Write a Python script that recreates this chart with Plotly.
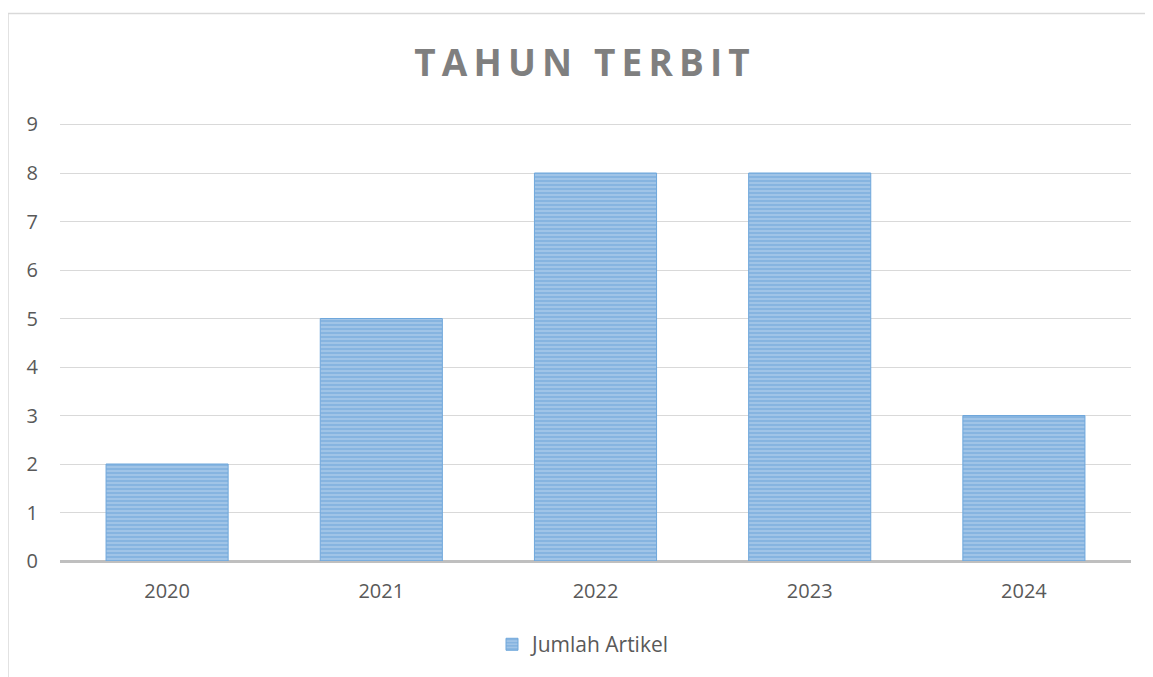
import plotly.graph_objects as go

years = ["2020", "2021", "2022", "2023", "2024"]
counts = [2, 5, 8, 8, 3]
series_name = "Jumlah Artikel"
title_text = "TAHUN TERBIT"
y_ticks = [0, 1, 2, 3, 4, 5, 6, 7, 8, 9]

# page has an 8px body margin; figure sized so it fills the 1153x677 window
OFF = 8
W, H = 1153 - OFF, 677 - OFF
L, R, T, B = 60 - OFF, 22, 123 - OFF, 114
PW, PH = W - L - R, H - T - B
Y_MAX = 9 + 1.5 / (438 / 9)  # small headroom so the top gridline is drawn

spaced_title = "\u2009".join(title_text)

fig = go.Figure()
fig.add_trace(go.Bar(
    x=years, y=counts, name=series_name, showlegend=True,
    marker=dict(
        color="#5B9BD5",
        line=dict(color="#6FA7DB", width=1),
        pattern=dict(shape="-", fgcolor="#5494D2", bgcolor="#B9D4EE",
                     size=4, solidity=0.75, fillmode="overlay"),
    ),
))

fig.update_layout(
    width=W, height=H,
    margin=dict(l=L, r=R, t=T, b=B),
    paper_bgcolor="white", plot_bgcolor="white",
    bargap=0.43,
    font=dict(family="Open Sans, Liberation Sans, sans-serif", color="#595959", size=19),
    title=dict(text=spaced_title, x=(582 - OFF) / W, xanchor="center",
               y=1 - (63 - OFF) / H, yanchor="middle",
               font=dict(size=37, color="#7F7F7F", family="Open Sans, sans-serif", weight="bold")),
    legend=dict(orientation="h", x=(584 - OFF - L) / PW, xanchor="center",
                y=-(646 - 562) / PH, yanchor="middle",
                font=dict(size=21, color="#595959"), itemwidth=30),
    xaxis=dict(showgrid=False, showline=False, ticks="", tickfont=dict(size=20),
               ticklabelstandoff=16),
    yaxis=dict(range=[0, Y_MAX], tickvals=y_ticks, showgrid=True, gridcolor="#D9D9D9", gridwidth=1,
               zeroline=True, zerolinecolor="#BFBFBF", zerolinewidth=3,
               ticks="", ticklabelstandoff=21, tickfont=dict(size=20), fixedrange=True),
    shapes=[dict(type="rect", xref="paper", yref="paper",
                 x0=-(L - 0) / PW, x1=1 + (R + 5) / PW,
                 y0=-(B + 5) / PH, y1=1 + (T - 5) / PH,
                 line=dict(color="#D9D9D9", width=1.5), fillcolor="rgba(0,0,0,0)", layer="below")],
)

fig.write_html("out.html")
